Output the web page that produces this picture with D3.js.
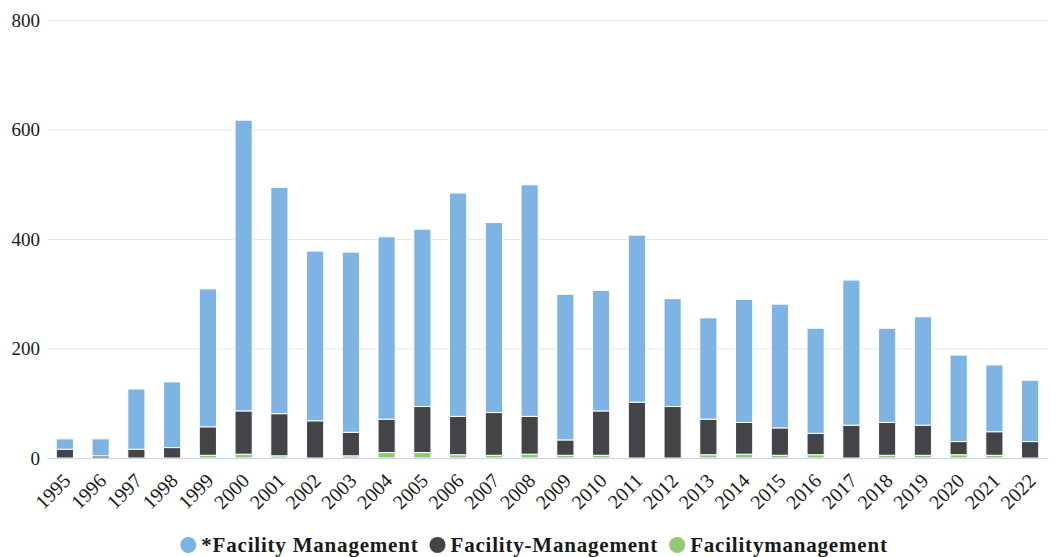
<!DOCTYPE html>
<html>
<head>
<meta charset="utf-8">
<script src="https://cdn.jsdelivr.net/npm/d3@7"></script>
<style>
body { margin: 0; background: #fff; }
svg { display: block; font-family: "Liberation Serif", "DejaVu Serif", serif; }
</style>
</head>
<body>
<div class="container"></div>
<script>
var width = 1056;
var height = 557;
var plotLeft = 47, plotRight = 1048, plotTop = 20, plotBottom = 458;

var years = ['1995','1996','1997','1998','1999','2000','2001','2002','2003','2004','2005','2006','2007','2008',
             '2009','2010','2011','2012','2013','2014','2015','2016','2017','2018','2019','2020','2021','2022'];
var starFacility = [19,31,110,120,252,531,413,310,329,333,324,408,347,423,266,220,305,197,185,225,226,192,265,172,198,158,122,112];
var facilityDash = [16,4,16,19,52,79,77,68,43,61,84,70,78,69,28,81,102,94,65,58,50,39,60,60,55,24,43,30];
var facilityOne  = [0,0,0,0,5,7,4,0,4,10,10,6,5,7,5,5,0,0,6,7,5,6,0,5,5,6,5,0];
var yTicks = [0,200,400,600,800];

var seriesNames = ['*Facility Management','Facility-Management','Facilitymanagement'];
var colors = ['#7db4e3','#434348','#92ca74'];

var translate = function(x, y) {
    return 'translate(' + x + ',' + y + ')';
}

var draw = function() {
    var svg = d3.select('.container').append('svg')
        .attr('width', width)
        .attr('height', height);

    var rows = years.map(function(y, i) {
        return {year: y, blue: starFacility[i], dark: facilityDash[i], green: facilityOne[i]};
    });

    var xScale = d3.scaleBand()
        .domain(years)
        .range([plotLeft, plotRight])
        .paddingInner(0.52)
        .paddingOuter(0.26);

    var yScale = d3.scaleLinear()
        .domain([0, 800])
        .range([plotBottom, plotTop]);

    // grid
    svg.append('g')
        .selectAll('line')
        .data(yTicks.filter(function(d) { return d > 0; }))
        .enter().append('line')
        .attr('x1', plotLeft).attr('x2', plotRight)
        .attr('y1', function(d) { return yScale(d) + 0.5; })
        .attr('y2', function(d) { return yScale(d) + 0.5; })
        .attr('stroke', '#e6e6e6')
        .attr('stroke-width', 1);

    svg.append('g')
        .selectAll('text')
        .data(yTicks)
        .enter().append('text')
        .attr('x', 40)
        .attr('y', function(d) { return yScale(d) + 6.5; })
        .attr('text-anchor', 'end')
        .attr('font-size', 19)
        .attr('fill', '#1a1a1a')
        .text(function(d) { return d; });

    var stack = d3.stack().keys(['green','dark','blue']);
    var layers = stack(rows);
    var colorOf = {green: colors[2], dark: colors[1], blue: colors[0]};

    svg.append('g').selectAll('g')
        .data(layers)
        .enter().append('g')
        .attr('fill', function(d) { return colorOf[d.key]; })
        .selectAll('rect')
        .data(function(d) { return d.filter(function(p) { return p[1] - p[0] > 0; }); })
        .enter().append('rect')
        .attr('x', function(d) { return xScale(d.data.year); })
        .attr('width', xScale.bandwidth())
        .attr('y', function(d) { return yScale(d[1]); })
        .attr('height', function(d) { return yScale(d[0]) - yScale(d[1]); })
        .attr('stroke', '#ffffff')
        .attr('stroke-width', 1);

    // axis line
    svg.append('line')
        .attr('x1', plotLeft).attr('x2', plotRight)
        .attr('y1', plotBottom + 0.5).attr('y2', plotBottom + 0.5)
        .attr('stroke', '#ccd6eb');

    svg.append('g')
        .selectAll('text')
        .data(years)
        .enter().append('text')
        .attr('transform', function(d) {
            return translate(xScale(d) + xScale.bandwidth() / 2 + 7, 482) + ' rotate(-45)';
        })
        .attr('text-anchor', 'end')
        .attr('font-size', 20)
        .attr('fill', '#1a1a1a')
        .text(function(d) { return d; });

    // legend
    var items = svg.append('g').selectAll('g')
        .data(seriesNames)
        .enter().append('g');
    items.append('circle')
        .attr('r', 8)
        .attr('cy', 545)
        .attr('fill', function(d, i) { return colors[i]; });
    items.append('text')
        .attr('y', 552)
        .attr('font-size', 21)
        .attr('font-weight', 'bold')
        .attr('letter-spacing', 0.8)
        .attr('fill', '#1a1a1a')
        .text(function(d) { return d; });

    var widths = [];
    items.select('text').each(function() { widths.push(this.getComputedTextLength()); });
    var gap = 11, sym = 21;
    var total = d3.sum(widths) + seriesNames.length * sym + (seriesNames.length - 1) * gap;
    var cx = 534 - total / 2;
    items.each(function(d, i) {
        var g = d3.select(this);
        g.select('circle').attr('cx', cx + 8);
        g.select('text').attr('x', cx + sym);
        cx += sym + widths[i] + gap;
    });
}

window.onload = draw;
</script>
</body>
</html>
